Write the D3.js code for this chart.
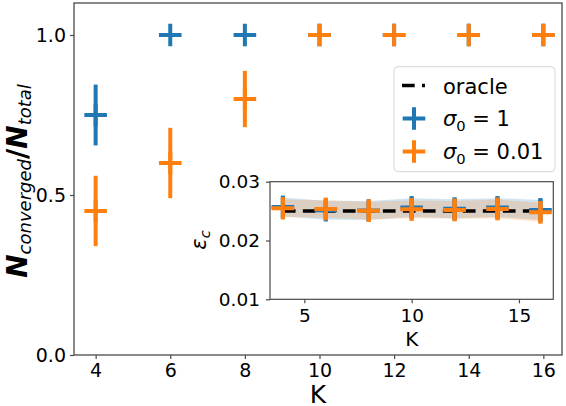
<!DOCTYPE html>
<html><head><meta charset="utf-8">
<script src="https://cdn.jsdelivr.net/npm/d3@7"></script>
<style>
body{margin:0;background:#fff;}
text{font-family:"DejaVu Sans",sans-serif;fill:#000;}
</style></head>
<body><svg id="c" width="566" height="406"></svg>
<script>
// ---- data ----
const K = [4, 6, 8, 10, 12, 14, 16];
// main panel: fraction converged
const blueFrac = [0.75, 1.0, 1.0, 1.0, 1.0, 1.0, 1.0];
const blueFracErr = [0.095, 0, 0, 0, 0, 0, 0];
const orangeFrac = [0.45, 0.6, 0.8, 1.0, 1.0, 1.0, 1.0];
const orangeFracErr = [0.11, 0.11, 0.088, 0, 0, 0, 0];
// inset: epsilon_c
const blueEps = [0.0257, 0.02515, 0.0251, 0.0256, 0.0254, 0.0256, 0.0252];
const blueEpsErr = [0.0019, 0.0018, 0.0018, 0.0019, 0.0019, 0.0019, 0.002];
const orangeEps = [0.02548, 0.02536, 0.02507, 0.0253, 0.0252, 0.02536, 0.0248];
const orangeEpsErr = [0.0018, 0.0019, 0.0019, 0.0019, 0.0019, 0.0019, 0.0019];
const blueBand = [0.0016, 0.0016, 0.0016, 0.0016, 0.0016, 0.0016, 0.0017];
const orangeBand = [0.0015, 0.0015, 0.0015, 0.0015, 0.0015, 0.0016, 0.0016];
const oracle = 0.025;
const mainXTicks = [4, 6, 8, 10, 12, 14, 16];
const mainYTicks = [0.0, 0.5, 1.0];
const insetXTicks = [5, 10, 15];
const insetYTicks = [0.01, 0.02, 0.03];
const legendLabels = ["oracle", "σ0 = 1", "σ0 = 0.01"];

const BLUE = "#1f77b4", ORANGE = "#ff7f0e", SPINE = "#4a4a4a";
const svg = d3.select("#c");

// ---- main axes ----
const x = d3.scaleLinear().domain([3.42, 16.5]).range([74, 562]);
const y = d3.scaleLinear().domain([0, 1.1]).range([355, 3]);

function styleAxis(g, fs) {
  g.select(".domain").remove();
  g.selectAll(".tick line").attr("stroke", SPINE).attr("stroke-width", 1.2);
  g.selectAll(".tick text").style("font-size", fs + "px").attr("fill", "#000");
}
svg.append("g").attr("transform", "translate(0,355)")
  .call(d3.axisBottom(x).tickValues(mainXTicks).tickSize(4).tickPadding(5).tickFormat(d3.format("d")))
  .call(g => styleAxis(g, 19));
svg.append("g").attr("transform", "translate(74,0)")
  .call(d3.axisLeft(y).tickValues(mainYTicks).tickSize(4).tickPadding(4).tickFormat(d3.format(".1f")))
  .call(g => styleAxis(g, 19));
svg.append("rect").attr("x", x.range()[0]).attr("y", y.range()[1])
  .attr("width", x.range()[1] - x.range()[0]).attr("height", y.range()[0] - y.range()[1])
  .attr("fill", "none").attr("stroke", SPINE).attr("stroke-width", 1.3);

const plus = s => `M${-s},0H${s}M0,${-s}V${s}`;
function drawSeries(g, xs, ys, vals, errs, color, size) {
  const gg = g.append("g");
  vals.forEach((v, i) => {
    if (errs[i] > 0) {
      gg.append("line").attr("x1", xs(K[i])).attr("x2", xs(K[i]))
        .attr("y1", ys(v - errs[i])).attr("y2", ys(v + errs[i]))
        .attr("stroke", color).attr("stroke-width", 4);
    }
    gg.append("path").attr("d", plus(size))
      .attr("transform", `translate(${xs(K[i])},${ys(v)})`)
      .attr("stroke", color).attr("stroke-width", 4).attr("fill", "none");
  });
}
drawSeries(svg, x, y, blueFrac, blueFracErr, BLUE, 11.3);
drawSeries(svg, x, y, orangeFrac, orangeFracErr, ORANGE, 11.3);

// axis labels
svg.append("text").attr("x", 318).attr("y", 403).attr("text-anchor", "middle")
  .style("font-size", "25px").text("K");
const yl = svg.append("text").attr("transform", "translate(27,181) rotate(-90)")
  .attr("text-anchor", "middle").style("font-size", "28px");
yl.append("tspan").style("font-style", "italic").style("font-weight", "bold").text("N");
yl.append("tspan").style("font-style", "italic").style("font-size", "18px").attr("dy", 4).text("converged");
yl.append("tspan").attr("dy", -4).style("font-weight", "bold").text("/");
yl.append("tspan").style("font-style", "italic").style("font-weight", "bold").text("N");
yl.append("tspan").style("font-style", "italic").style("font-size", "18px").attr("dy", 4).text("total");

// ---- legend ----
const lg = svg.append("g");
lg.append("rect").attr("x", 394).attr("y", 66.7).attr("width", 161).attr("height", 105).attr("rx", 4)
  .attr("fill", "#fff").attr("fill-opacity", 0.8).attr("stroke", "#d6d6d6").attr("stroke-width", 1);
lg.append("line").attr("x1", 402).attr("x2", 425).attr("y1", 85.5).attr("y2", 85.5)
  .attr("stroke", "#000").attr("stroke-width", 3.5).attr("stroke-dasharray", "12.7,7.3");
lg.append("path").attr("d", plus(11.3)).attr("transform", "translate(414,118.5)")
  .attr("stroke", BLUE).attr("stroke-width", 4);
lg.append("path").attr("d", plus(11.3)).attr("transform", "translate(414,151.5)")
  .attr("stroke", ORANGE).attr("stroke-width", 4);
lg.append("text").attr("x", 443).attr("y", 93.5).style("font-size", "21px").text(legendLabels[0]);
[[legendLabels[1], 126], [legendLabels[2], 159]].forEach(([lab, yy]) => {
  const rest = lab.slice(2);
  const t = lg.append("text").attr("x", 443).attr("y", yy).style("font-size", "21px");
  t.append("tspan").style("font-style", "italic").text(lab[0]);
  t.append("tspan").style("font-size", "14.7px").attr("dy", 4.5).text(lab[1]);
  t.append("tspan").attr("dy", -4.5).text(rest);
});

// ---- inset ----
const xi = d3.scaleLinear().domain([3.4, 16.6]).range([270, 553.3]);
const yi = d3.scaleLinear().domain([0.01, 0.03]).range([299.3, 181.7]);
svg.append("rect").attr("x", 270).attr("y", 181.7).attr("width", 283.3).attr("height", 117.6).attr("fill", "#fff");
const ins = svg.append("g");
function band(vals, w, color) {
  ins.append("path").datum(vals.map((v, i) => [K[i], v - w[i], v + w[i]]))
    .attr("d", d3.area().x(d => xi(d[0])).y0(d => yi(d[1])).y1(d => yi(d[2])))
    .attr("fill", color).attr("fill-opacity", 0.2);
}
band(blueEps, blueBand, BLUE);
band(orangeEps, orangeBand, ORANGE);
ins.append("line").attr("x1", xi(K[0])).attr("x2", xi(K[K.length - 1]))
  .attr("y1", yi(oracle)).attr("y2", yi(oracle))
  .attr("stroke", "#000").attr("stroke-width", 3.5).attr("stroke-dasharray", "12.7,7.3");
drawSeries(ins, xi, yi, blueEps, blueEpsErr, BLUE, 11.3);
drawSeries(ins, xi, yi, orangeEps, orangeEpsErr, ORANGE, 11.3);

svg.append("g").attr("transform", "translate(0,299.3)")
  .call(d3.axisBottom(xi).tickValues(insetXTicks).tickSize(4).tickPadding(5.3).tickFormat(d3.format("d")))
  .call(g => styleAxis(g, 18.5));
svg.append("g").attr("transform", "translate(270,0)")
  .call(d3.axisLeft(yi).tickValues(insetYTicks).tickSize(4).tickPadding(6).tickFormat(d3.format(".2f")))
  .call(g => styleAxis(g, 18.5));
svg.append("rect").attr("x", 270).attr("y", 181.7).attr("width", 283.3).attr("height", 117.6)
  .attr("fill", "none").attr("stroke", SPINE).attr("stroke-width", 1.2);
svg.append("text").attr("x", 411.7).attr("y", 346).attr("text-anchor", "middle")
  .style("font-size", "20px").text("K");
const el = svg.append("text").attr("transform", "translate(206,240) rotate(-90)")
  .attr("text-anchor", "middle").style("font-size", "21px");
el.append("tspan").style("font-style", "italic").text("ε");
el.append("tspan").style("font-style", "italic").style("font-size", "14.7px").attr("dy", 4).text("c");
</script></body></html>
